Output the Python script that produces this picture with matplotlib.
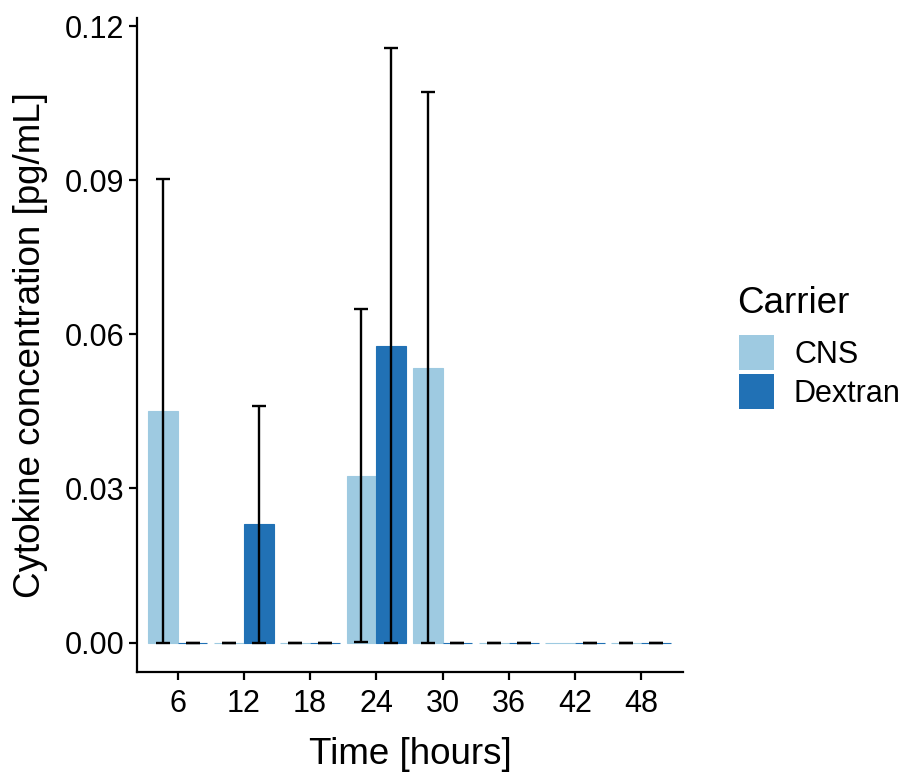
import numpy as np
import matplotlib
matplotlib.use("Agg")
import matplotlib.pyplot as plt
from matplotlib.patches import Patch

plt.rcParams['font.family'] = ['Liberation Sans', 'DejaVu Sans']

times = [6, 12, 18, 24, 30, 36, 42, 48]
carriers = ["CNS", "Dextran"]
cns_mean = [0.0451, 0.0, 0.0, 0.0325, 0.0535, 0.0, 0.0, 0.0]
cns_sd = [0.0451, 0.0, 0.0, 0.0324, 0.0536, 0.0, np.nan, 0.0]
dex_mean = [0.0, 0.0230, 0.0, 0.0577, 0.0, 0.0, 0.0, 0.0]
dex_sd = [0.0, 0.0231, 0.0, 0.0581, 0.0, 0.0, 0.0, 0.0]
colors = ["#9ECAE1", "#2171B5"]
y_ticks = [0.00, 0.03, 0.06, 0.09, 0.12]
y_ticklabels = ["0.00", "0.03", "0.06", "0.09", "0.12"]

fig = plt.figure(figsize=(9.06, 7.76), dpi=100)
ax = fig.add_axes([137.3/906, 1-672.3/776, (682.7-137.3)/906, (672.3-18)/776])

t = np.array(times, dtype=float)
bw = 2.7
for i, (m, s) in enumerate([(cns_mean, cns_sd), (dex_mean, dex_sd)]):
    x = t + (i - 0.5) * bw
    m = np.array(m); s = np.array(s)
    ax.bar(x, m, width=bw, color=colors[i], edgecolor=colors[i], linewidth=0.8, zorder=2)
    ok = ~np.isnan(s)
    lower = m[ok] - np.maximum(m[ok] - s[ok], 0)
    upper = s[ok]
    ax.errorbar(x[ok], m[ok], yerr=[lower, upper], fmt='none', ecolor='black',
                elinewidth=1.7, capsize=4.8, capthick=1.7, zorder=3)

ax.set_xlim(2.35, 51.75)
ax.set_ylim(-0.0058, 0.1216)
ax.set_xticks(times)
ax.set_xticklabels([str(v) for v in times])
ax.set_yticks(y_ticks)
ax.set_yticklabels(y_ticklabels)
for sp in ['top', 'right']:
    ax.spines[sp].set_visible(False)
for sp in ['left', 'bottom']:
    ax.spines[sp].set_linewidth(1.6)
ax.tick_params(axis='both', labelsize=22, length=5.5, width=1.6, colors='black')
ax.tick_params(axis='x', pad=6.5)
ax.tick_params(axis='y', pad=4)
ax.set_xlabel("Time [hours]", fontsize=26.5, labelpad=13)
ax.set_ylabel("Cytokine concentration [pg/mL]", fontsize=26.5, labelpad=12)

fig.text(737/906, 1-313/776, "Carrier", fontsize=26.5, ha='left', va='baseline')
handles = [Patch(facecolor=colors[i], edgecolor='none', label=carriers[i]) for i in range(2)]
leg = fig.legend(handles=handles, loc='upper left',
                 bbox_to_anchor=(739/906, 1-335/776), frameon=False,
                 fontsize=22, handlelength=1.15, handleheight=1.385,
                 handletextpad=0.65, labelspacing=0.13, borderpad=0, borderaxespad=0)

fig.savefig("out.png", dpi=100)
